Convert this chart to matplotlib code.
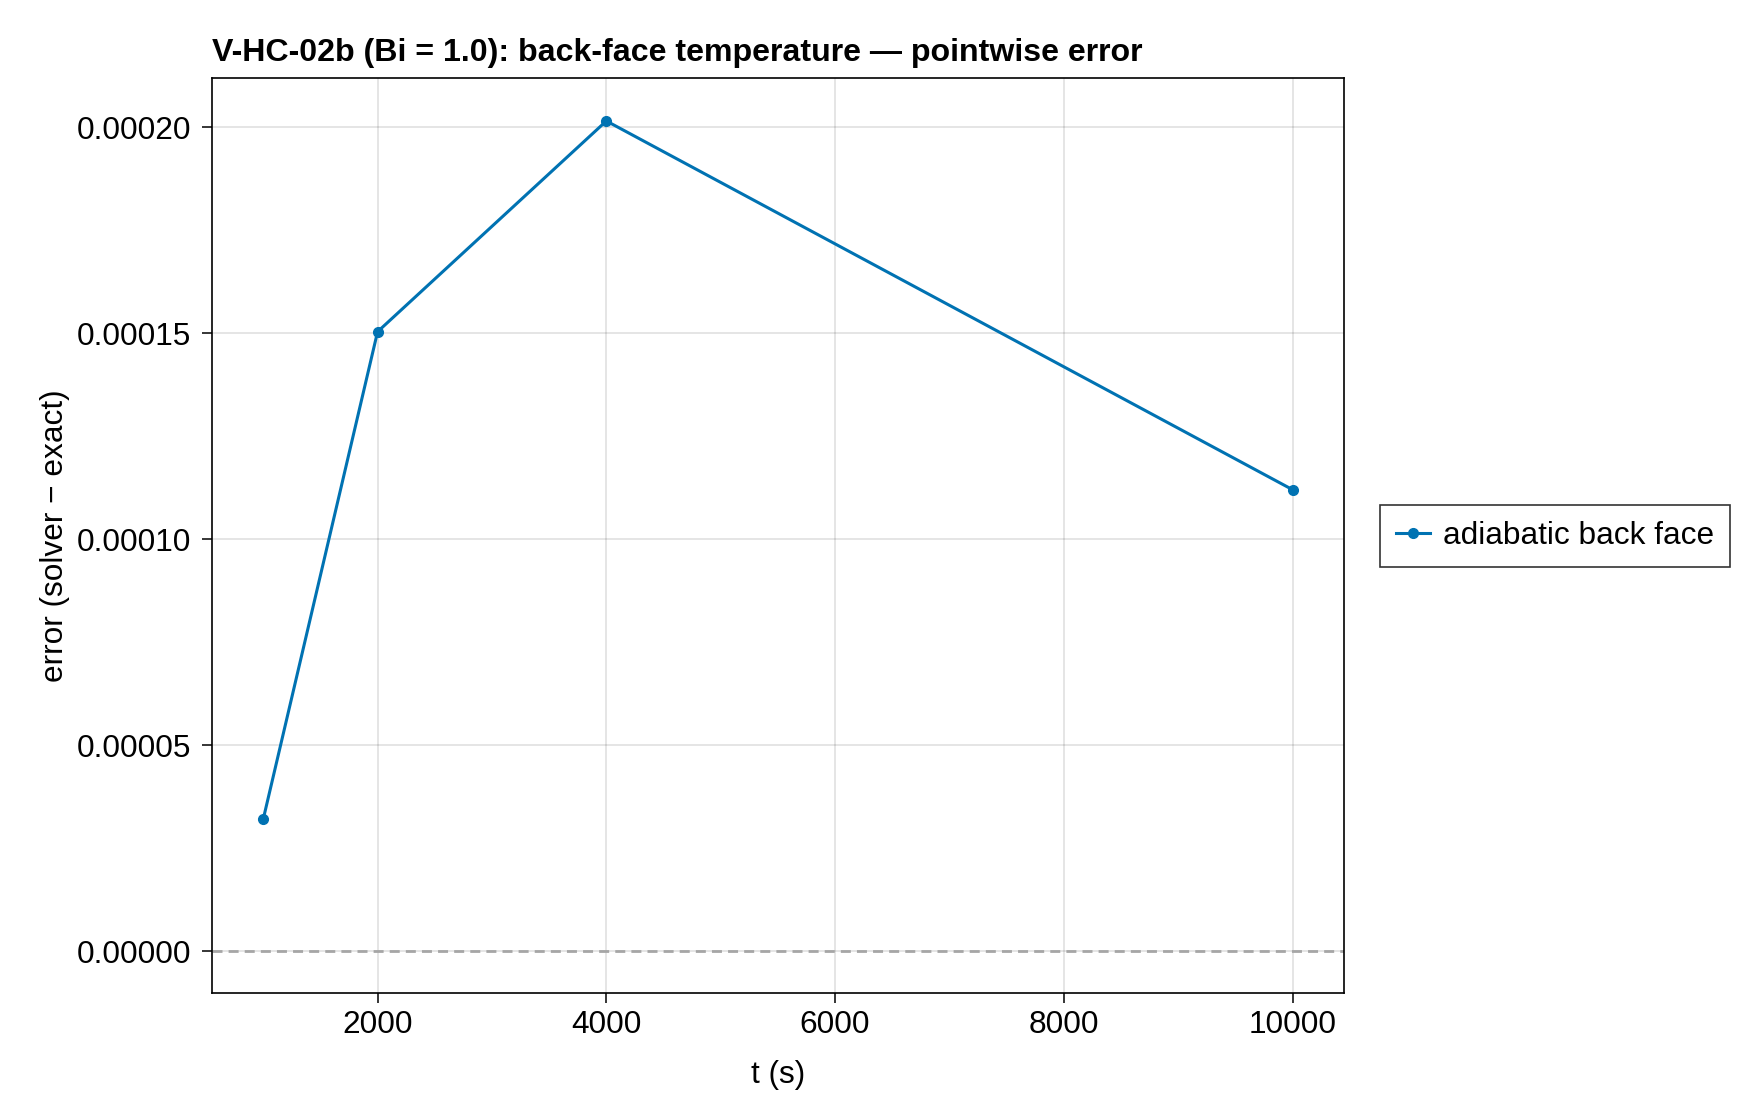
import matplotlib
matplotlib.use("Agg")
from matplotlib import pyplot as plt
import matplotlib.ticker as mticker

# data
t_values = [1000, 2000, 4000, 10000]
error_values = [3.205e-5, 1.504e-4, 2.0155e-4, 1.1205e-4]
series_label = "adiabatic back face"

title_text = "V-HC-02b (Bi = 1.0): back-face temperature \u2014 pointwise error"
x_label = "t (s)"
y_label = "error (solver \u2212 exact)"
x_ticks = [2000, 4000, 6000, 8000, 10000]
y_ticks = [0.0, 0.00005, 0.00010, 0.00015, 0.00020]

plt.rcParams['font.family'] = ['Liberation Sans', 'DejaVu Sans']

fig = plt.figure(figsize=(17.6, 11.2), dpi=100)
ax = fig.add_axes([0.1203, 0.1134, 0.6434, 0.8174])

ax.grid(True, color="black", alpha=0.12, linewidth=1.2)
ax.set_axisbelow(True)

ax.axhline(0, color="#a6a6a6", linewidth=2.0, linestyle=(0, (3.6, 2.2)), zorder=1)
ax.plot(t_values, error_values, color="#0072B2", linewidth=2.2, marker="o",
        markersize=7, label=series_label, zorder=3)

ax.set_xlim(550, 10450)
ax.set_ylim(-1.01e-5, 2.121e-4)
ax.set_xticks(x_ticks)
ax.set_yticks(y_ticks)
ax.yaxis.set_major_formatter(mticker.FormatStrFormatter("%.5f"))

ax.tick_params(axis="both", direction="out", length=7.5, width=1.1, labelsize=22.8)
ax.tick_params(axis="y", pad=7)
ax.tick_params(axis="x", pad=5)
for spine in ax.spines.values():
    spine.set_linewidth(1.2)

ax.set_xlabel(x_label, fontsize=22.8, labelpad=14)
ax.set_ylabel(y_label, fontsize=22.8, labelpad=5)
ax.set_title(title_text, loc="left", fontsize=23.1, fontweight="bold", pad=12)

leg = ax.legend(loc="center left", bbox_to_anchor=(0.784, 0.5214), bbox_transform=fig.transFigure,
                borderaxespad=0, fontsize=22.8, frameon=True, fancybox=False,
                handlelength=1.05, handletextpad=0.42, borderpad=0.52)
leg.get_frame().set_edgecolor("black")
leg.get_frame().set_linewidth(1.2)

fig.savefig("out.png", dpi=100)
